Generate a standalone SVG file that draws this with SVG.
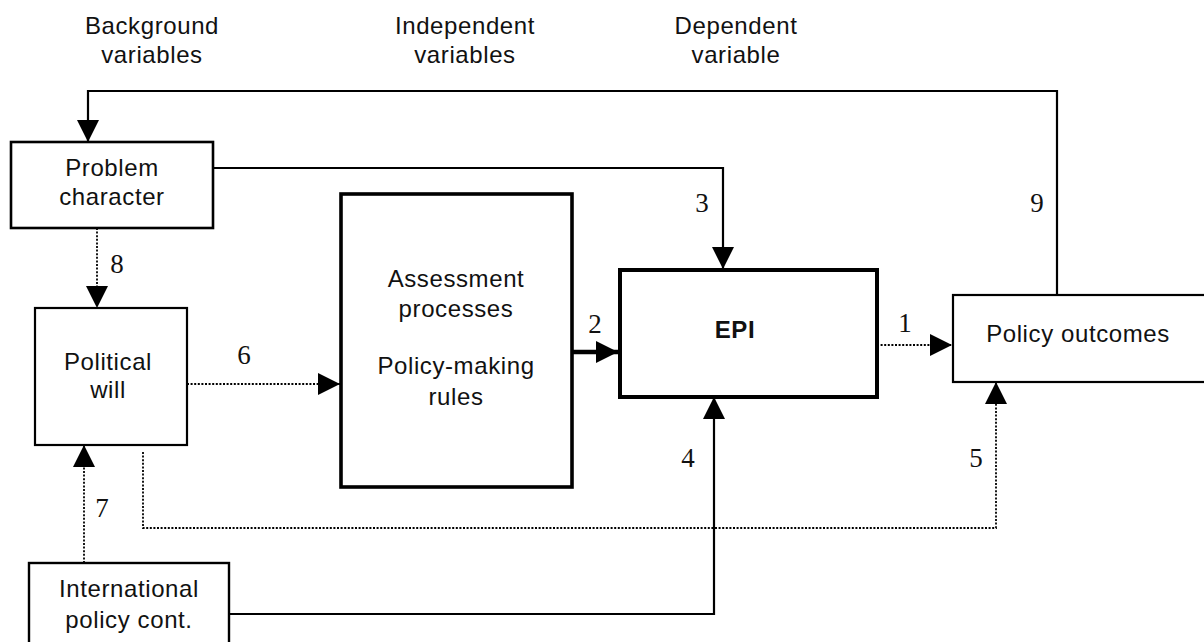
<svg xmlns="http://www.w3.org/2000/svg" width="1204" height="642" viewBox="0 0 1204 642">
  <style>
    .box { fill: #fff; stroke: #000; }
    .lbl { font-family: "Liberation Sans", Arial, Helvetica, sans-serif; font-size: 24px; letter-spacing: 0.6px; fill: #111; text-anchor: middle; }
    .num { font-family: "Liberation Serif", "Times New Roman", serif; font-size: 27px; fill: #111; text-anchor: middle; }
    .solid { fill: none; stroke: #000; stroke-width: 2.2; }
    .dot { fill: none; stroke: #000; stroke-width: 1.8; stroke-dasharray: 2 1.6; }
  </style>
  <defs>
    <marker id="head" viewBox="0 0 22 22" refX="22" refY="11" markerWidth="22" markerHeight="22" markerUnits="userSpaceOnUse" orient="auto">
      <path d="M0,0 L22,11 L0,22 Z" fill="#000"/>
    </marker>
  </defs>
  <rect width="1204" height="642" fill="#fff"/>

  <!-- column headings -->
  <g id="headings">
    <text class="lbl" x="152" y="34">Background</text>
    <text class="lbl" x="152" y="63">variables</text>
    <text class="lbl" x="465" y="34">Independent</text>
    <text class="lbl" x="465" y="63">variables</text>
    <text class="lbl" x="736" y="34">Dependent</text>
    <text class="lbl" x="736" y="63">variable</text>
  </g>

  <!-- connectors -->
  <g id="connectors">
    <!-- 9: outcomes feed back to problem character -->
    <path class="solid" d="M1057,295 V91 H88 V142" marker-end="url(#head)"/>
    <!-- 3: problem character to EPI -->
    <path class="solid" d="M213,168 H723 V269" marker-end="url(#head)"/>
    <!-- 8: problem character to political will -->
    <path class="dot" d="M97,228 V308" marker-end="url(#head)"/>
    <!-- 6: political will to assessment / rules -->
    <path class="dot" d="M187,384 H340" marker-end="url(#head)"/>
    <!-- 2: assessment / rules to EPI -->
    <path fill="none" stroke="#000" stroke-width="4.5" d="M572,352 H618" marker-end="url(#head)"/>
    <!-- 1: EPI to policy outcomes -->
    <path class="dot" d="M877,345 H952" marker-end="url(#head)"/>
    <!-- 7: international context to political will -->
    <path class="dot" d="M84,563 V445" marker-end="url(#head)"/>
    <!-- 4: international context to EPI -->
    <path class="solid" stroke-width="2.6" d="M229,614 H714 V397" marker-end="url(#head)"/>
    <!-- 5: political will to policy outcomes -->
    <path class="dot" d="M143,452 V528 H996 V382" marker-end="url(#head)"/>
  </g>

  <!-- connector numbers -->
  <g id="numbers">
    <text class="num" x="702" y="212">3</text>
    <text class="num" x="1037" y="212">9</text>
    <text class="num" x="117" y="273">8</text>
    <text class="num" x="244" y="364">6</text>
    <text class="num" x="595" y="333">2</text>
    <text class="num" x="905" y="332">1</text>
    <text class="num" x="102" y="517">7</text>
    <text class="num" x="688" y="467">4</text>
    <text class="num" x="976" y="467">5</text>
  </g>

  <g id="problem-character">
    <rect class="box" x="11" y="142" width="202" height="86" stroke-width="2.6"/>
    <text class="lbl" x="112" y="176">Problem</text>
    <text class="lbl" x="112" y="205">character</text>
  </g>

  <g id="political-will">
    <rect class="box" x="35" y="308" width="152" height="137" stroke-width="2.2"/>
    <text class="lbl" x="108" y="370">Political</text>
    <text class="lbl" x="108" y="398">will</text>
  </g>

  <g id="assessment-rules">
    <rect class="box" x="341" y="194" width="231" height="293" stroke-width="3.6"/>
    <text class="lbl" x="456" y="287">Assessment</text>
    <text class="lbl" x="456" y="317">processes</text>
    <text class="lbl" x="456" y="374">Policy-making</text>
    <text class="lbl" x="456" y="405">rules</text>
  </g>

  <g id="epi">
    <rect class="box" x="620" y="270" width="257" height="127" stroke-width="4"/>
    <text class="lbl" x="735" y="338" font-weight="bold" font-size="21" letter-spacing="0">EPI</text>
  </g>

  <g id="policy-outcomes">
    <rect class="box" x="953" y="295" width="260" height="87" stroke-width="2.2"/>
    <text class="lbl" x="1078" y="342">Policy outcomes</text>
  </g>

  <g id="international-context">
    <rect class="box" x="29" y="563" width="200" height="90" stroke-width="2.4"/>
    <text class="lbl" x="129" y="597">International</text>
    <text class="lbl" x="129" y="628">policy cont.</text>
  </g>
</svg>
